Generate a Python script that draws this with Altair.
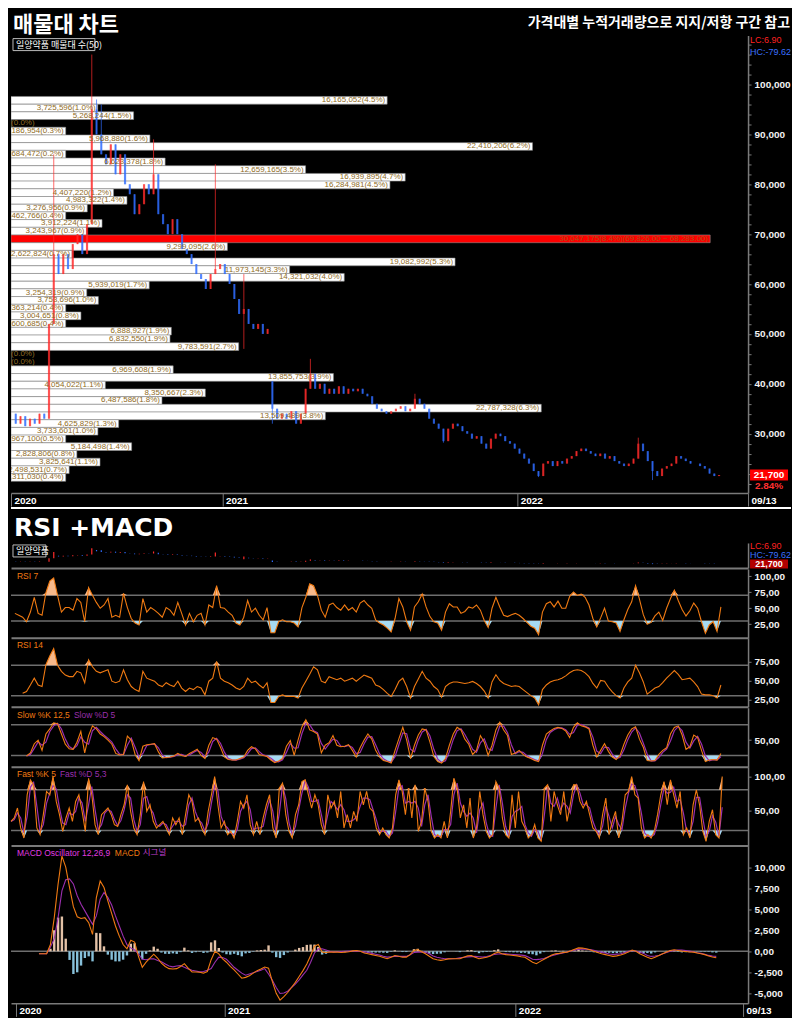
import altair as alt
import numpy as np
import pandas as pd

# ---------------------------------------------------------------- data
# price closes (thousand KRW), one sample every PRICE_STEP sessions
close_k = [
    34.0, 32.0, 33.5, 31.5, 33.0, 32.0, 34.0, 33.0, 52.0, 66.0,
    62.0, 66.0, 63.0, 68.0, 70.0, 66.0, 72.0, 95.0, 90.0, 86.0,
    84.0, 88.0, 82.0, 86.0, 80.0, 78.0, 74.0, 76.0, 80.0, 78.0,
    82.0, 74.0, 72.0, 70.0, 73.0, 70.0, 67.0, 66.0, 64.0, 62.0,
    61.0, 59.0, 62.0, 63.0, 64.0, 62.0, 60.0, 57.0, 54.0, 55.0,
    52.0, 51.0, 52.0, 50.0, 51.0, 35.0, 33.0, 34.0, 33.0, 34.5,
    32.0, 34.0, 39.0, 42.0, 39.0, 40.0, 38.0, 39.0, 38.0, 39.5,
    38.0, 39.0, 38.5, 39.0, 38.0, 37.5, 36.0, 35.0, 34.5, 34.0,
    34.5, 35.0, 35.5, 34.5, 35.0, 37.0, 36.0, 35.0, 33.0, 32.0,
    31.0, 28.5, 31.0, 32.0, 31.5, 30.5, 30.0, 29.0, 29.5, 28.0,
    27.0, 29.0, 30.0, 29.5, 28.5, 28.0, 27.0, 26.0, 25.0, 24.0,
    22.5, 21.5, 24.0, 24.5, 23.5, 24.5, 24.0, 25.0, 25.5, 26.5,
    27.0, 26.5, 26.0, 25.5, 26.0, 25.0, 25.5, 24.5, 24.0, 23.5,
    24.0, 25.0, 28.0, 26.5, 24.5, 22.5, 21.5, 23.0, 23.5, 24.0,
    25.5, 25.0, 24.5, 24.0, 24.0, 23.5, 23.0, 22.0, 21.5, 21.7,
]
PRICE_STEP = 4.9
wick_hi_idx = [9, 17, 18, 19, 30, 43, 49, 55, 63, 85, 132]
wick_hi_val = [86000, 106000, 97000, 96000, 89000, 84000, 62000, 40500, 45000, 38000, 29200]
wick_lo_idx = [9, 49, 55, 91, 111, 135]
wick_lo_val = [60000, 47000, 32000, 28200, 21300, 20700]
gap_idx = [55]
gap_open = [40500]
CUR_PRICE = [21700]
CUR_LABEL = ["21,700"]
CUR_CHG = ["2.84%"]

# volume profile (50 bands, top to bottom)
volumes = [
    16165052, 3725596, 5268244, 0, 1186954, 5968880, 22410206, 684472, 6623378, 12659165,
    16939895, 16284981, 4407220, 4983322, 3276956, 1462766, 3912224, 3243967, 30047175, 9299095,
    2622824, 19082992, 11973145, 14321032, 5939019, 3254319, 3753696, 1363214, 3004651, 1600685,
    6888927, 6832550, 9783591, 0, 0, 6969608, 13855753, 4054022, 8350667, 6487586,
    22787328, 13509489, 4625829, 3733601, 1967100, 5184498, 2828806, 3825641, 2498531, 1311030,
]
pcts = [
    "4.5%", "1.0%", "1.5%", "0.0%", "0.3%", "1.6%", "6.2%", "0.2%", "1.8%", "3.5%",
    "4.7%", "4.5%", "1.2%", "1.4%", "0.9%", "0.4%", "1.1%", "0.9%", "8.4%", "2.6%",
    "0.7%", "5.3%", "3.3%", "4.0%", "1.7%", "0.9%", "1.0%", "0.4%", "0.8%", "0.4%",
    "1.9%", "1.9%", "2.7%", "0.0%", "0.0%", "1.9%", "3.9%", "1.1%", "2.3%", "1.8%",
    "6.3%", "3.8%", "1.3%", "1.0%", "0.5%", "1.4%", "0.8%", "1.1%", "0.7%", "0.4%",
]
MAX_BAND_RANGE = "(69,826.00 ~ 68,283.00)"
BAND_TOP = 97602.0
BAND_STEP = 1543.0

IND_STEP = 4
rsi7_start = 4
rsi7 = [
    42, 39, 36, 29, 44, 67, 42, 39, 74, 92,
    97, 70, 44, 51, 51, 47, 65, 59, 29, 82,
    70, 59, 50, 55, 65, 36, 39, 36, 73, 51,
    34, 27, 24, 65, 44, 51, 47, 42, 36, 51,
    47, 39, 59, 42, 24, 42, 29, 39, 42, 24,
    55, 51, 85, 51, 50, 44, 39, 27, 24, 36,
    62, 44, 50, 39, 32, 51, 12, 12, 29, 32,
    29, 29, 27, 21, 51, 67, 88, 85, 70, 47,
    36, 55, 58, 51, 47, 55, 47, 51, 44, 58,
    62, 55, 50, 32, 27, 24, 19, 13, 34,
    65, 52, 29, 16, 52, 60, 72, 52, 37, 29,
    27, 16, 44, 57, 52, 52, 42, 45, 52, 50,
    55, 47, 31, 20, 50, 67, 52, 39, 37, 40,
    42, 39, 34, 28, 22, 19, 9, 44, 57, 60,
    52, 61, 50, 50, 68, 75, 70, 72, 67, 55,
    34, 21, 35, 50, 30, 29, 27, 14, 32, 48,
    60, 85, 64, 40, 25, 28, 38, 44, 31, 50,
    65, 78, 62, 48, 38, 46, 58, 50, 29, 11,
    24, 29, 14, 52,
]
rsi14_start = 12
rsi14 = [
    33, 35.5, 44, 53, 44, 42, 70.6, 82, 92, 70,
    62, 57, 55, 55, 62, 60, 47, 77, 68, 62,
    60, 62, 64, 49, 47, 49, 64, 51, 42, 38,
    35.5, 62, 53, 51, 49, 44, 42, 47, 44, 42,
    49, 40, 35.5, 40, 38, 42, 40, 31, 49, 53,
    75, 53, 49, 47, 44, 40, 38, 42, 53, 47,
    49, 44, 40, 47, 21, 21, 29, 31, 29, 29,
    29, 27, 40, 49, 58, 68, 64, 49, 47, 55,
    53, 51, 53, 49, 51, 53, 49, 53, 57, 55,
    53, 44, 42, 38, 33, 29, 38,
    48.7, 53, 42, 27, 42, 52, 62, 53, 49, 42,
    38, 28, 42, 46, 48, 48, 47, 46, 47, 48.7,
    46, 42, 36, 27, 48, 57.5, 50, 46, 44, 42,
    43, 42, 38, 34, 30, 27, 18, 38, 44, 48,
    50, 51, 53, 56, 60, 63, 64, 63, 60, 55,
    46, 40, 50, 49, 41, 35, 30, 27, 40, 48,
    53, 70, 60, 48, 32, 36, 40, 42, 47, 53,
    58, 63, 58, 51, 52, 53, 48, 42, 32, 31,
    31, 30, 27, 44,
]
slowk_start = 16
slow_k = [
    19, 25, 43, 50, 30, 62, 72, 84, 82, 62, 42,
    33, 32, 46, 67, 25, 59, 78, 72, 62, 57,
    50, 42, 24, 21, 22, 58, 50, 22, 10, 38,
    41, 42, 43, 27, 15, 16, 17, 19, 24, 20,
    18, 24, 28, 32, 20, 14, 40, 55, 52, 36,
    17, 12, 11, 11, 14, 17, 30, 37, 33, 22,
    20, 18, 11, 6, 9, 14, 38, 49, 20, 50,
    76, 90, 70, 67, 62, 25, 40, 45, 59, 40,
    37, 38, 41, 30, 17, 35, 50, 62, 52, 30,
    17, 10, 8, 5, 30, 53, 75, 50, 14, 40,
    60, 72, 70, 46, 18, 8, 5, 14, 40, 62,
    75, 70, 52, 42, 22, 30, 59, 46, 20, 40,
    70, 85, 70, 59, 22, 25, 30, 22, 17, 14,
    10, 8, 40, 62, 68, 73, 75, 73, 68, 55,
    75, 84, 78, 76, 72, 40, 17, 30, 43, 28,
    17, 12, 20, 42, 60, 72, 76, 52, 36, 10,
    9, 10, 22, 30, 35, 62, 75, 78, 60, 32,
    37, 60, 55, 30, 8, 11, 12, 11, 24,
]
FAST_STEP = 10 / 3
fast_k = [
    33.6, 38.6, 53.2, 23.9, 9.2, 72.7, 94.6, 87.3, 23.9, 14.1,
    43.4, 77.6, 72.7, 99.5, 62.9, 43.4, 19, 38.6, 53.2, 33.6,
    62.9, 72.7, 48.3, 19, 97, 72.7, 28.8, 14.1, 43.4, 48.3,
    53.2, 43.4, 28.8, 26.3, 43.4, 58,
    87.3, 48.3, 23.9, 14.1, 43.4, 92, 48.3, 58, 33.6, 23.9,
    28.8, 33.6, 23.9, 14.1, 38.6, 28.8, 38.6, 14.1, 43.4, 72.7,
    62.9, 33.6, 38.6, 23.9, 14.1, 48.3, 72.7, 99.5, 58, 23.9,
    33.6, 14.1, 19, 9.2, 33.6, 62.9, 53.2, 72.7, 28.8, 14.1,
    33.6, 14.1, 38.6, 58, 72.7, 23.9, 9.2, 82.4, 89.8, 43.4,
    19, 9.2, 43.4, 58, 92, 94.6, 72.7, 53.2, 72.7, 58,
    28.8, 14.1, 72.7, 53.2, 62.9, 38.6, 77.6, 23.9, 43.4, 23.9,
    48.3, 33.6, 77.6, 58, 77.6, 53.2, 48.3, 23.9, 14.1, 23.9,
    14.1, 9.2, 23.9, 72.7, 94.6,
    77.6, 43.4, 82.4, 38.6, 87.3, 19, 33.6, 82.4, 62.9, 19,
    9.2, 14.1, 9.2, 33.6, 9.2, 48.3, 97, 82.4, 38.6, 58,
    23.9, 67.8, 9.2, 23.9, 77.6, 43.4, 19, 9.2, 14.1, 92,
    82.4, 38.6, 14.1, 9.2, 72.7, 23.9, 77.6, 33.6, 23.9, 9.2,
    14.1, 28.8, 9.2, 4.3, 82.4, 87.3, 33.6, 77.6, 58, 43.4,
    77.6, 33.6, 58, 87.3, 87.3, 62.9, 53.2, 62.9, 43.4, 23.9,
    19, 9.2, 43.4, 67.8, 14.1, 33.6, 48.3, 9.2, 33.6, 72.7,
    77.6, 99.5, 72.7, 67.8, 23.9, 9.2, 14.1, 9.2, 19, 43.4,
    72.7, 92, 58, 94.6, 72.7, 53.2, 77.6, 14.1, 23.9, 9.2,
    58, 80, 58, 19, 4.3, 33.6, 50.7, 14.1, 9.2, 99.5,
]
macd_start = 24
macd = [
    -290, -300, -290, 800, 4000, 8000, 11300, 10000, 7570, 5300,
    4100, 3900, 4000, 3400, 2000, 6390, 8350, 7570, 6000, 4500,
    3000, 1800, 800, 300, 1300, 1100, -600, -1900, -1300, -800,
    -350, -800, -1400, -1800, -2060, -2100, -2060, -1800, -1470, -2000,
    -2460, -2460, -2500, -2600, -2400, -1000, 0, -300, -900, -1300,
    -1800, -2200, -2700, -3200, -3100, -2900, -2600, -2300, -2100, -1870,
    -2000, -3600, -5000, -5800, -5400, -4900, -4300, -3700, -3000, -2300,
    -1500, -500, 600, 800, -100, -150, -100, -100, -100, -150,
    -100, -50, 50, 100, 0, -200, -300, -400, -500, -600,
    -750, -880, -700, -500, -600, -700, -700, -400, 100, 200,
    -50, -300, -600, -880, -1000, -1080, -1000, -900, -880, -880,
    -880, -700, -550, -500, -700, -880, -800, -700, -550, -250,
    -100, -300, -400, -450, -500, -550, -650, -700, -1000, -1300,
    -1470, -1200, -950, -700, -450, -300, -250, -150, -100, 50,
    250, 400, 380, 300, 180, 0, -150, -290, -400, -500,
    -600, -550, -450, -300, -100, 150, 0, -300, -490, -700,
    -880, -700, -500, -300, -100, 100, 180, 100, 20, -30,
    -80, -100, -200, -290, -400, -550, -690, -770,
]
signal = [
    -290, -300, -290, 500, 1500, 4000, 7170, 8500, 8600, 8000,
    6600, 5600, 4800, 4000, 3200, 4200, 6200, 6980, 6400, 5500,
    4200, 3000, 1800, 800, 400, 150, -300, -950, -1000, -900,
    -900, -1100, -1250, -1500, -1750, -1850, -1750, -1700, -1900, -2100,
    -2260, -2350, -2450, -2400, -2250, -2060, -1300, -690, -750, -950,
    -1400, -1900, -2250, -2600, -2850, -2700, -2550, -2400, -2250, -2060,
    -2700, -3440, -4300, -5010, -4950, -4750, -4300, -3900, -3400, -2800,
    -2260, -1300, -200, 290, 290, 150, 0, -100, -60, -20,
    10, 20, 20, 20, -20, -70, -120, -250, -350, -450,
    -580, -690, -650, -610, -610, -610, -610, -400, -150, -100,
    -100, -100, -300, -550, -700, -800, -880, -880, -880, -860,
    -780, -700, -660, -630, -610, -650, -690, -620, -500, -380,
    -330, -300, -310, -350, -380, -420, -460, -520, -700, -950,
    -990, -930, -850, -680, -520, -400, -280, -200, -80, 50,
    150, 230, 290, 250, 200, 120, 0, -100, -200, -330,
    -380, -340, -300, -150, 0, 100, 20, -80, -250, -500,
    -610, -570, -500, -300, -150, 20, 100, 160, 150, 80,
    20, -60, -180, -250, -350, -490, -560, -610,
]

xtick_vals = [0, 218, 522, 760]
xtick_labels = ["2020", "2021", "2022", "09/13"]
RSI_LEVELS = [30, 70]
STO_LEVELS = [20, 80]
MACD_LEVELS = [0]

# ---------------------------------------------------------------- style
W = 738
X_DOMAIN = [0, 760]
FONT = "Noto Sans CJK KR"
NUM = "Liberation Sans"
GRAY = "#7a7a7a"
UP, DOWN = "#ff2b2b", "#2f6cff"
ORANGE, PURPLE, MAGENTA = "#f07a12", "#9b2fae", "#e13be0"
PEACH, LBLUE = "#f7b98b", "#a6daf2"

# ---------------------------------------------------------------- frames
n = len(close_k)
price = pd.DataFrame({"t": np.arange(n) * PRICE_STEP, "close": np.array(close_k) * 1000.0})
price["open"] = price["close"].shift(1).fillna(price["close"].iloc[0])
for i, o in zip(gap_idx, gap_open):
    price.loc[i, "open"] = o
price["hi"] = price[["open", "close"]].max(axis=1)
price["lo"] = price[["open", "close"]].min(axis=1)
for i, v in zip(wick_hi_idx, wick_hi_val):
    price.loc[i, "hi"] = max(price.loc[i, "hi"], v)
for i, v in zip(wick_lo_idx, wick_lo_val):
    price.loc[i, "lo"] = min(price.loc[i, "lo"], v)
price["dir"] = np.where(price["close"] >= price["open"], "up", "down")

k = np.arange(len(volumes))
vp = pd.DataFrame({"vol": volumes, "pct": pcts})
vp["top"] = BAND_TOP - k * BAND_STEP
vp["bot"] = vp["top"] - BAND_STEP
vp["mid"] = (vp["top"] + vp["bot"]) / 2
imax = int(np.argmax(volumes))
vp["kind"] = ["max" if i == imax else "n" for i in k]
vp["label"] = [f"{v:,}({p})" + (MAX_BAND_RANGE if i == imax else "") for i, (v, p) in enumerate(zip(volumes, pcts))]
VOL_XMAX = max(volumes) * 759 / 720


def series(start, step, vals, name="v"):
    return pd.DataFrame({"t": start + np.arange(len(vals)) * step, name: vals})


r7 = series(rsi7_start, IND_STEP, rsi7)
r14 = series(rsi14_start, IND_STEP, rsi14)
sk = series(slowk_start, IND_STEP, slow_k)
fk = series(0, FAST_STEP, fast_k)
md = pd.DataFrame({"t": macd_start + np.arange(len(macd)) * IND_STEP, "macd": macd, "sig": signal})

# ---------------------------------------------------------------- helpers
xsc = alt.Scale(domain=X_DOMAIN, nice=False, zero=False)
cscale = alt.Scale(domain=["up", "down"], range=[UP, DOWN])

xexpr = "''"
for v, l in reversed(list(zip(xtick_vals, xtick_labels))):
    xexpr = f"datum.value == {v} ? '{l}' : {xexpr}"

AX_X_PLAIN = alt.Axis(labels=False, ticks=False, domain=True, domainColor=GRAY, domainWidth=2,
                      grid=False, title=None, minExtent=0)
AX_X_DATES = alt.Axis(values=xtick_vals, labelExpr=xexpr, tickSize=13, tickColor=GRAY, tickWidth=1,
                      labelPadding=-11, labelAlign="left", labelBaseline="top", labelOffset=3,
                      labelColor="white", labelFont=NUM, labelFontSize=10, labelFontWeight="bold",
                      labelBound=False, labelFlush=False, labelOverlap=False,
                      domainColor=GRAY, domainWidth=1.5, grid=False, title=None)


def yaxis(values, expr, labels=True):
    return alt.Axis(orient="right", values=values, labelExpr=expr, labels=labels, tickSize=3,
                    tickColor=GRAY, domainColor=GRAY, domainWidth=1.5, labelColor="#f2f2f2",
                    labelFont=NUM, labelFontSize=10, labelFontWeight="bold", labelPadding=3,
                    labelBound=False, labelOverlap=False, grid=False, title=None)


def text(s, x, y, size, color, weight="normal", align="left", baseline="top", font=FONT):
    return alt.Chart(pd.DataFrame({"s": [s]})).mark_text(
        align=align, baseline=baseline, fontSize=size, fontWeight=weight, color=color, font=font
    ).encode(text="s:N", x=alt.value(x), y=alt.value(y))


def X(field, axis):
    return alt.X(field, type="quantitative", scale=xsc, axis=axis, title=None)


one = pd.DataFrame({"a": [0]})

# ---------------------------------------------------------------- header
header = alt.layer(
    text("매물대 차트", 2, 23, 22, "white", "bold", baseline="alphabetic"),
    text("가격대별 누적거래량으로 지지/저항 구간 참고", W + 42, 18, 14, "white", "bold",
         align="right", baseline="alphabetic"),
).properties(width=W, height=27)

# ---------------------------------------------------------------- price + volume profile
ysc_p = alt.Scale(domain=[18100, 109800], nice=False, zero=False)
yax_p = yaxis(list(range(20000, 108001, 2000)),
              "datum.value % 10000 == 0 && datum.value >= 30000 ? format(datum.value, ',') : ''")
vsc = alt.Scale(domain=[0, VOL_XMAX], nice=False, zero=False)


def YP(field):
    return alt.Y(field, type="quantitative", scale=ysc_p, axis=yax_p, title=None)


bars = alt.Chart(vp).transform_calculate(
    x0="0", xe="datum.vol == 0 ? 0 : max(datum.vol, 2350000)"
).mark_rect(stroke="#8c8c8c", strokeWidth=0.6, clip=True).encode(
    x=alt.X("x0:Q", scale=vsc, axis=None, title=None),
    x2="xe:Q",
    y=YP("bot"),
    y2="top:Q",
    fill=alt.condition("datum.kind == 'max'", alt.value("#ff0000"), alt.value("#ffffff")),
)
wicks = alt.Chart(price).mark_rule(strokeWidth=1, opacity=0.7).encode(
    x=X("t", None), y=YP("lo"), y2="hi:Q",
    color=alt.Color("dir:N", scale=cscale, legend=None))
bodies = alt.Chart(price).mark_rule(strokeWidth=2.2, opacity=0.7).encode(
    x=X("t", AX_X_DATES), y=YP("open"), y2="close:Q",
    color=alt.Color("dir:N", scale=cscale, legend=None))
vtext = alt.Chart(vp).transform_calculate(
    xe="datum.vol == 0 ? 1100000 : max(datum.vol, 2350000)"
).mark_text(align="right", baseline="middle", dx=-2, font=NUM, fontSize=8, clip=True).encode(
    x=alt.X("xe:Q", scale=vsc, axis=None, title=None),
    y=YP("mid"),
    text="label:N",
    color=alt.condition("datum.kind == 'max'", alt.value("#a8501a"), alt.value("#8f6b24")),
)
cur = pd.DataFrame({"p": CUR_PRICE, "s": CUR_LABEL, "c": CUR_CHG})
cur_box = alt.Chart(cur).mark_tick(color="#ff0000", thickness=11, size=38, opacity=1).encode(
    y=YP("p"), x=alt.value(W + 21))
cur_txt = alt.Chart(cur).mark_text(color="white", font=NUM, fontSize=10, fontWeight="bold").encode(
    y=YP("p"), x=alt.value(W + 21), text="s:N")
cur_chg = alt.Chart(cur).mark_text(color="#ff3030", font=NUM, fontSize=10, fontWeight="bold", dy=11).encode(
    y=YP("p"), x=alt.value(W + 21), text="c:N")
lab_box = alt.Chart(one).mark_rect(fill="#000000", stroke="#bbbbbb", strokeWidth=1).encode(
    x=alt.value(2), x2=alt.value(84), y=alt.value(3), y2=alt.value(15))

price_chart = alt.layer(
    bars, wicks, bodies, vtext, cur_box, cur_txt, cur_chg, lab_box,
    text("일양약품 매물대 수(50)", 5, 9, 9, "white", baseline="middle"),
    text("LC:6.90", W + 2, 0, 9, "#ff2020", font=NUM),
    text("HC:-79.62", W + 2, 12, 9, "#3a70ff", font=NUM),
).resolve_scale(x="independent").properties(width=W, height=458)

# ---------------------------------------------------------------- section title
title2 = alt.layer(
    alt.Chart(one).mark_rule(color="white", strokeWidth=2).encode(
        x=alt.value(0), x2=alt.value(W + 43), y=alt.value(1)),
    text("RSI +MACD", 3, 29, 25, "white", "bold", baseline="alphabetic", font="DejaVu Sans"),
).properties(width=W, height=35)

# ---------------------------------------------------------------- mini price
ysc_m = alt.Scale(domain=[0, 135000], nice=False, zero=False)
yax_m = alt.Axis(orient="right", labels=False, ticks=False, domain=True, domainColor=GRAY,
                 domainWidth=1.5, grid=False, title=None)
mini = alt.layer(
    alt.Chart(price).mark_rule(strokeWidth=1.2).encode(
        x=X("t", AX_X_PLAIN),
        y=alt.Y("lo:Q", scale=ysc_m, axis=yax_m, title=None), y2="hi:Q",
        color=alt.Color("dir:N", scale=cscale, legend=None)),
    alt.Chart(one).mark_rect(fill="#000000", stroke="#bbbbbb", strokeWidth=1).encode(
        x=alt.value(2), x2=alt.value(35), y=alt.value(2), y2=alt.value(14)),
    text("일양약품", 5, 8, 9, "white", baseline="middle"),
    text("LC:6.90", W + 2, -1, 9, "#ff2020", font=NUM),
    text("HC:-79.62", W + 2, 8, 9, "#3a70ff", font=NUM),
    alt.Chart(cur).mark_tick(color="#ff0000", thickness=9, size=38).encode(
        y=alt.Y("p:Q", scale=ysc_m, axis=yax_m, title=None), x=alt.value(W + 21)),
    alt.Chart(cur).mark_text(color="white", font=NUM, fontSize=9, fontWeight="bold").encode(
        y=alt.Y("p:Q", scale=ysc_m, axis=yax_m, title=None), x=alt.value(W + 21), text="s:N"),
).properties(width=W, height=25)


# ---------------------------------------------------------------- oscillator panels
def osc_panel(df, domain, levels, ylabels, titles, height, dline=False, dframe=None):
    ysc = alt.Scale(domain=domain, nice=False, zero=False)
    yax = yaxis(ylabels, "replace(format(datum.value, '.2f'), '.', ',')")

    def Y(f):
        return alt.Y(f, type="quantitative", scale=ysc, axis=yax, title=None)

    lo_lv, hi_lv = levels
    lv = pd.DataFrame({"lv": levels})
    layers = [
        alt.Chart(lv).mark_rule(color="#6e6e6e", strokeWidth=1.5).encode(y=Y("lv")),
        alt.Chart(df).transform_calculate(a=f"max(datum.v, {hi_lv})", b=f"{hi_lv}")
        .mark_area(color=PEACH, opacity=1).encode(x=X("t", AX_X_PLAIN), y=Y("a"), y2="b:Q"),
        alt.Chart(df).transform_calculate(a=f"min(datum.v, {lo_lv})", b=f"{lo_lv}")
        .mark_area(color=LBLUE, opacity=1).encode(x=X("t", AX_X_PLAIN), y=Y("a"), y2="b:Q"),
    ]
    if dline:
        layers.append(
            alt.Chart(df).transform_window(d="mean(v)", frame=dframe, sort=[alt.SortField("t")])
            .mark_line(color=PURPLE, strokeWidth=1.2).encode(x=X("t", AX_X_PLAIN), y=Y("d")))
    layers.append(alt.Chart(df).mark_line(color=ORANGE, strokeWidth=1.1).encode(
        x=X("t", AX_X_PLAIN), y=Y("v")))
    for s, x, c in titles:
        layers.append(text(s, x, 3, 8.5, c, font=NUM))
    return alt.layer(*layers).properties(width=W, height=height)


rsi7c = osc_panel(r7, [4, 111], RSI_LEVELS, [25, 50, 75, 100], [("RSI 7", 6, ORANGE)], 69)
rsi14c = osc_panel(r14, [15.4, 106], RSI_LEVELS, [25, 50, 75], [("RSI 14", 6, ORANGE)], 69)
slowc = osc_panel(sk, [-2, 113.5], STO_LEVELS, [50],
                  [("Slow %K 12,5", 6, ORANGE), ("Slow %D 5", 63, PURPLE)], 59, True, [-1, 0])
fastc = osc_panel(fk, [-2, 114], STO_LEVELS, [50, 100],
                  [("Fast %K 5", 6, ORANGE), ("Fast %D 5,3", 49, PURPLE)], 79, True, [-1, 0])

# ---------------------------------------------------------------- MACD
ysc_md = alt.Scale(domain=[-6190, 12560], nice=False, zero=False)
yax_md = yaxis([-5000, -2500, 0, 2500, 5000, 7500, 10000],
               "datum.value == 0 ? '0,00' : replace(format(datum.value, ','), '\u2212', '-')")


def YM(f):
    return alt.Y(f, type="quantitative", scale=ysc_md, axis=yax_md, title=None)


md_base = alt.Chart(md).transform_calculate(osc="datum.macd - datum.sig", z="0")
macdc = alt.layer(
    alt.Chart(pd.DataFrame({"lv": MACD_LEVELS})).mark_rule(color="#6e6e6e", strokeWidth=1.5).encode(y=YM("lv")),
    md_base.mark_bar(size=2.4).encode(
        x=X("t", AX_X_DATES), y=YM("osc"), y2="z:Q",
        color=alt.condition("datum.osc >= 0", alt.value("#e3c1a6"), alt.value("#86bfd9"))),
    alt.Chart(md).mark_line(color=PURPLE, strokeWidth=1.1).encode(x=X("t", AX_X_DATES), y=YM("sig")),
    alt.Chart(md).mark_line(color=ORANGE, strokeWidth=1.1).encode(x=X("t", AX_X_DATES), y=YM("macd")),
    text("MACD Oscillator 12,26,9", 6, 3, 8.5, MAGENTA, font=NUM),
    text("MACD", 104, 3, 8.5, ORANGE, font=NUM),
    text("시그널", 132, 2, 8.5, "#c040d0"),
).properties(width=W, height=158)

chart = alt.vconcat(
    header, price_chart, title2, mini, rsi7c, rsi14c, slowc, fastc, macdc, spacing=0
).configure(background="#000000", padding=0).configure_view(strokeWidth=0)

chart.save("out.html", embed_options={"renderer": "svg", "actions": False})
